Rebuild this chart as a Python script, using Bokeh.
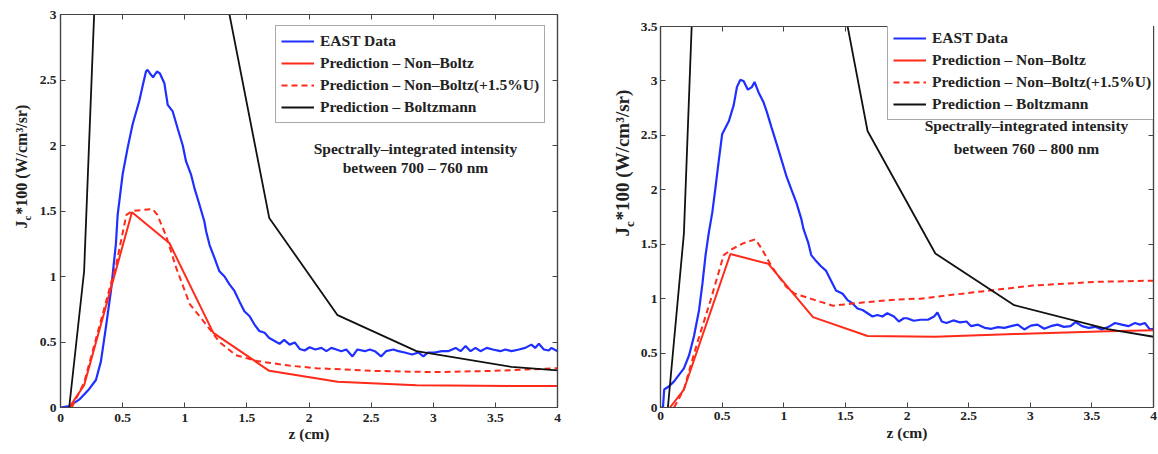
import numpy as np
from bokeh.plotting import figure
from bokeh.layouts import row
from bokeh.models import Range1d, FixedTicker, LinearAxis, Legend, LegendItem, Label
from bokeh.embed import file_html
from bokeh.resources import INLINE

FONT = "Liberation Serif"
BLUE = "#1f2fff"
RED = "#ff2a1a"
BLACK = "#111111"
FRAME = "#444444"
TXT = "#222222"

# ---------------- axes / text ----------------
x_ticks = [0, 0.5, 1, 1.5, 2, 2.5, 3, 3.5, 4]
x_tick_labels = ["0", "0.5", "1", "1.5", "2", "2.5", "3", "3.5", "4"]
left_y_ticks = [0, 0.5, 1, 1.5, 2, 2.5, 3]
left_y_tick_labels = ["0", "0.5", "1", "1.5", "2", "2.5", "3"]
right_y_ticks = [0, 0.5, 1, 1.5, 2, 2.5, 3, 3.5]
right_y_tick_labels = ["0", "0.5", "1", "1.5", "2", "2.5", "3", "3.5"]
legend_labels = ["EAST Data", "Prediction – Non–Boltz",
                 "Prediction – Non–Boltz(+1.5%U)", "Prediction – Boltzmann"]
x_label = "z (cm)"
y_label_parts = ["J", "c", "*100 (W/cm³/sr)"]
left_note = ["Spectrally–integrated intensity", "between 700 – 760 nm"]
right_note = ["Spectrally–integrated intensity", "between 760 – 800 nm"]

# ---------------- left panel data (700-760 nm) ----------------
left_east_z = [0.0, 0.07, 0.15, 0.23, 0.285, 0.325, 0.365, 0.406, 0.446, 0.46, 0.5, 0.54, 0.58,
               0.634, 0.66, 0.688, 0.70, 0.72, 0.745, 0.776, 0.80, 0.836, 0.863, 0.903, 0.943,
               0.984, 1.01, 1.05, 1.078, 1.118, 1.158, 1.172, 1.2, 1.24, 1.279, 1.32, 1.36,
               1.40, 1.44, 1.48, 1.522, 1.56, 1.60, 1.643, 1.68, 1.72, 1.763, 1.80, 1.844,
               1.885, 1.925, 1.965, 2.005, 2.05, 2.10, 2.14, 2.18, 2.22, 2.26, 2.30, 2.35,
               2.39, 2.45, 2.49, 2.53, 2.58, 2.62, 2.68, 2.72, 2.77, 2.83, 2.88, 2.92, 2.96,
               3.01, 3.07, 3.12, 3.18, 3.22, 3.26, 3.30, 3.34, 3.38, 3.43, 3.48, 3.54, 3.58,
               3.63, 3.69, 3.74, 3.79, 3.82, 3.85, 3.89, 3.93, 3.95, 4.0]
left_east_v = [0.0, 0.01, 0.06, 0.14, 0.21, 0.35, 0.61, 0.89, 1.25, 1.47, 1.78, 1.98, 2.16,
               2.34, 2.45, 2.565, 2.578, 2.55, 2.52, 2.565, 2.55, 2.475, 2.31, 2.26, 2.13,
               2.0, 1.88, 1.78, 1.675, 1.55, 1.42, 1.345, 1.24, 1.14, 1.04, 1.0, 0.94,
               0.89, 0.81, 0.735, 0.697, 0.635, 0.584, 0.57, 0.53, 0.51, 0.486, 0.516, 0.48,
               0.497, 0.447, 0.435, 0.46, 0.443, 0.455, 0.43, 0.455, 0.443, 0.43, 0.443, 0.39,
               0.443, 0.43, 0.443, 0.43, 0.39, 0.43, 0.443, 0.43, 0.42, 0.405, 0.42, 0.39, 0.42,
               0.42, 0.43, 0.43, 0.455, 0.43, 0.47, 0.43, 0.455, 0.43, 0.455, 0.443, 0.43, 0.443,
               0.43, 0.443, 0.455, 0.48, 0.455, 0.486, 0.443, 0.435, 0.455, 0.43]

left_nonb_z = [0.07, 0.19, 0.575, 0.876, 1.23, 1.68, 2.23, 2.865, 3.63, 4.0]
left_nonb_v = [0.0, 0.17, 1.49, 1.256, 0.57, 0.28, 0.197, 0.169, 0.165, 0.164]

left_nonbU_z = [0.09, 0.19, 0.31, 0.45, 0.53, 0.58, 0.74, 0.78, 0.85, 0.93, 1.04, 1.15,
                1.28, 1.41, 1.58, 1.84, 2.06, 2.5, 3.0, 3.5, 4.0]
left_nonbU_v = [0.0, 0.19, 0.61, 1.1, 1.47, 1.5, 1.515, 1.47, 1.31, 1.07, 0.79, 0.66,
                0.50, 0.40, 0.355, 0.32, 0.30, 0.28, 0.27, 0.28, 0.30]

left_boltz_z = [0.07, 0.19, 0.575, 0.876, 1.23, 1.68, 2.23, 2.865, 3.63, 4.0]
left_boltz_v = [0.0, 1.04, 10.4, 8.0, 3.63, 1.447, 0.705, 0.43, 0.31, 0.283]

# ---------------- right panel data (760-800 nm) ----------------
right_east_z = [0.0, 0.02, 0.03, 0.07, 0.11, 0.15, 0.19, 0.232, 0.272, 0.313, 0.34, 0.366,
                0.393, 0.42, 0.446, 0.473, 0.50, 0.554, 0.594, 0.62, 0.647, 0.674, 0.709,
                0.741, 0.763, 0.795, 0.835, 0.862, 0.902, 0.943, 0.983, 1.023, 1.063, 1.103,
                1.143, 1.16, 1.197, 1.223, 1.263, 1.30, 1.344, 1.384, 1.424, 1.478, 1.518,
                1.558, 1.598, 1.639, 1.68, 1.72, 1.76, 1.80, 1.84, 1.894, 1.934, 1.974, 2.0,
                2.055, 2.11, 2.17, 2.22, 2.247, 2.282, 2.32, 2.376, 2.43, 2.483, 2.52, 2.576,
                2.63, 2.684, 2.738, 2.79, 2.845, 2.898, 2.952, 3.005, 3.059, 3.113, 3.166,
                3.22, 3.273, 3.327, 3.367, 3.42, 3.474, 3.527, 3.581, 3.635, 3.688, 3.742,
                3.796, 3.85, 3.89, 3.93, 3.97, 4.0]
right_east_v = [0.0, 0.0, 0.165, 0.195, 0.24, 0.30, 0.36, 0.48, 0.657, 0.896, 1.135, 1.405,
                1.613, 1.79, 2.02, 2.27, 2.51, 2.629, 2.778, 2.943, 3.01, 3.0, 2.92,
                2.943, 2.99, 2.897, 2.807, 2.718, 2.569, 2.42, 2.27, 2.12, 2.0, 1.88,
                1.73, 1.64, 1.52, 1.40, 1.345, 1.30, 1.255, 1.165, 1.075, 1.045, 0.986,
                0.956, 0.91, 0.896, 0.866, 0.836, 0.85, 0.836, 0.866, 0.836, 0.79, 0.82, 0.82,
                0.797, 0.806, 0.806, 0.836, 0.872, 0.79, 0.776, 0.8, 0.782, 0.79, 0.747, 0.761,
                0.732, 0.723, 0.738, 0.732, 0.747, 0.761, 0.717, 0.752, 0.761, 0.723, 0.747,
                0.761, 0.741, 0.747, 0.785, 0.747, 0.732, 0.741, 0.717, 0.741, 0.776, 0.761,
                0.747, 0.776, 0.761, 0.776, 0.717, 0.723]

right_nonb_z = [0.077, 0.19, 0.567, 0.875, 1.237, 1.68, 2.23, 2.87, 3.63, 4.0]
right_nonb_v = [0.0, 0.165, 1.41, 1.32, 0.83, 0.657, 0.649, 0.675, 0.70, 0.71]

right_nonbU_z = [0.11, 0.14, 0.19, 0.30, 0.406, 0.513, 0.58, 0.674, 0.77, 0.82, 0.90, 0.955,
                 1.02, 1.09, 1.197, 1.30, 1.40, 1.49, 1.60, 1.76, 1.92, 2.11, 2.48, 3.02,
                 3.55, 4.0]
right_nonbU_v = [0.0, 0.06, 0.17, 0.6, 0.985, 1.40, 1.455, 1.51, 1.545, 1.46, 1.30, 1.21,
                 1.11, 1.045, 1.007, 0.97, 0.935, 0.947, 0.96, 0.977, 0.992, 1.0, 1.05, 1.12,
                 1.155, 1.165]

right_boltz_z = [0.06, 0.19, 0.567, 0.875, 1.237, 1.68, 2.23, 2.87, 3.63, 4.0]
right_boltz_v = [0.0, 1.6, 13.0, 10.0, 5.17, 2.54, 1.415, 0.94, 0.72, 0.65]

FIG_H = 454
R_SHIFT = 12


def ylabel_strip(width, base_x, sub_x, start_y, main_font, sub_font):
    """Narrow figure holding the rotated y-axis title J_c*100 (W/cm^3/sr)."""
    f = figure(width=width, height=FIG_H, output_backend="svg", toolbar_location=None,
               x_axis_location=None, y_axis_location=None, min_border=0,
               x_range=Range1d(0, 1), y_range=Range1d(0, 1))
    f.grid.visible = False
    f.outline_line_color = None
    f.background_fill_color = "white"
    f.border_fill_color = "white"
    fm = float(main_font.replace("px", ""))
    fs = float(sub_font.replace("px", ""))
    y1 = start_y + 0.5 * fm
    y2 = y1 + 0.444 * fs + 0.8
    for txt, xx, yy, fsz in [(y_label_parts[0], base_x, start_y, main_font),
                             (y_label_parts[1], sub_x, y1, sub_font),
                             (y_label_parts[2], base_x, y2, main_font)]:
        f.add_layout(Label(x=xx, y=yy, x_units="screen", y_units="screen", text=txt,
                           angle=np.pi / 2, text_align="left", text_baseline="alphabetic",
                           text_font=FONT, text_font_style="bold",
                           text_font_size=fsz, text_color=TXT))
    return f


def make_panel(width, height, mb_left, mb_right, mb_top, mb_bottom, y_max, y_ticks,
               y_tick_labels, series, legend_xy, note, note_xy, xlab_standoff,
               xlab_axis_standoff, ylab_standoff):
    p = figure(width=width, height=height, output_backend="svg", toolbar_location=None,
               x_range=Range1d(0, 4), y_range=Range1d(0, y_max),
               min_border_left=mb_left, min_border_right=mb_right,
               min_border_top=mb_top, min_border_bottom=mb_bottom)
    p.grid.visible = False
    p.background_fill_color = "white"
    p.border_fill_color = "white"
    p.outline_line_color = FRAME
    p.outline_line_width = 1.2

    def style(ax, ticks):
        ax.ticker = FixedTicker(ticks=ticks)
        ax.major_tick_in = 5
        ax.major_tick_out = 0
        ax.minor_tick_in = 0
        ax.minor_tick_out = 0
        ax.minor_tick_line_color = None
        ax.axis_line_color = FRAME
        ax.axis_line_width = 1.2
        ax.major_tick_line_color = FRAME
        ax.major_label_text_font = FONT
        ax.major_label_text_font_style = "bold"
        ax.major_label_text_font_size = "13.5px"
        ax.major_label_text_color = TXT

    xa = p.xaxis[0]
    style(xa, x_ticks)
    xa.major_label_overrides = {t: s for t, s in zip(x_ticks, x_tick_labels)}
    xa.major_label_standoff = xlab_standoff
    xa.axis_label = x_label
    xa.axis_label_text_font = FONT
    xa.axis_label_text_font_style = "bold"
    xa.axis_label_text_font_size = "15.5px"
    xa.axis_label_text_color = TXT
    xa.axis_label_standoff = xlab_axis_standoff

    ya = p.yaxis[0]
    style(ya, y_ticks)
    ya.major_label_overrides = {t: s for t, s in zip(y_ticks, y_tick_labels)}
    ya.major_label_standoff = ylab_standoff

    top = LinearAxis()
    style(top, x_ticks)
    top.major_label_overrides = {t: "" for t in x_ticks}
    top.major_label_standoff = 0
    top.major_label_text_font_size = "1px"
    p.add_layout(top, "above")

    rgt = LinearAxis()
    style(rgt, y_ticks)
    rgt.major_label_overrides = {t: "" for t in y_ticks}
    rgt.major_label_standoff = 0
    rgt.major_label_text_font_size = "1px"
    p.add_layout(rgt, "right")

    (ez, ev), (nz, nv), (uz, uv), (bz, bv) = series
    r_east = p.line(ez, ev, line_color=BLUE, line_width=2.2)
    r_nonb = p.line(nz, nv, line_color=RED, line_width=2.0)
    r_nonbU = p.line(uz, uv, line_color=RED, line_width=2.0, line_dash="6 4")
    r_boltz = p.line(bz, bv, line_color=BLACK, line_width=1.8)

    legend = Legend(items=[LegendItem(label=legend_labels[0], renderers=[r_east]),
                           LegendItem(label=legend_labels[1], renderers=[r_nonb]),
                           LegendItem(label=legend_labels[2], renderers=[r_nonbU]),
                           LegendItem(label=legend_labels[3], renderers=[r_boltz])],
                    location=legend_xy)
    legend.label_text_font = FONT
    legend.label_text_font_style = "bold"
    legend.label_text_font_size = "15.5px"
    legend.label_text_color = TXT
    legend.glyph_width = 33
    legend.glyph_height = 20
    legend.label_height = 20
    legend.label_standoff = 6
    legend.spacing = 2
    legend.padding = 5
    legend.margin = 0
    legend.border_line_color = "#555555"
    legend.border_line_width = 1.5
    legend.background_fill_color = "white"
    legend.background_fill_alpha = 1.0
    p.add_layout(legend, "center")

    nx, ny1, ny2 = note_xy
    for txt, yy in zip(note, [ny1, ny2]):
        p.add_layout(Label(x=nx, y=yy, x_units="screen", y_units="screen", text=txt,
                           text_align="center", text_baseline="middle",
                           text_font=FONT, text_font_style="bold",
                           text_font_size="15.5px", text_color=TXT))
    return p


left_lab = ylabel_strip(36, 21, 26, FIG_H - 275, "16px", "11px")
left = make_panel(544, FIG_H, 24, 23, 14, 47, 3, left_y_ticks, left_y_tick_labels,
                  [(left_east_z, left_east_v), (left_nonb_z, left_nonb_v),
                   (left_nonbU_z, left_nonbU_v), (left_boltz_z, left_boltz_v)],
                  (215, 284), left_note, (355, 259, 240), 6, 0, 4)

right_lab = ylabel_strip(57, 42, 48.5, FIG_H - 283, "19px", "13px")
right = make_panel(521, FIG_H - R_SHIFT, 20, 5, 14, 37, 3.5, right_y_ticks,
                   right_y_tick_labels,
                   [(right_east_z, right_east_v), (right_nonb_z, right_nonb_v),
                    (right_nonbU_z, right_nonbU_v), (right_boltz_z, right_boltz_v)],
                   (227, 287), right_note, (366, 282, 259), 4, 1, 3)
right.margin = (R_SHIFT, 0, 0, 0)

layout = row(left_lab, left, right_lab, right)
open("out.html", "w").write(file_html(layout, INLINE))
